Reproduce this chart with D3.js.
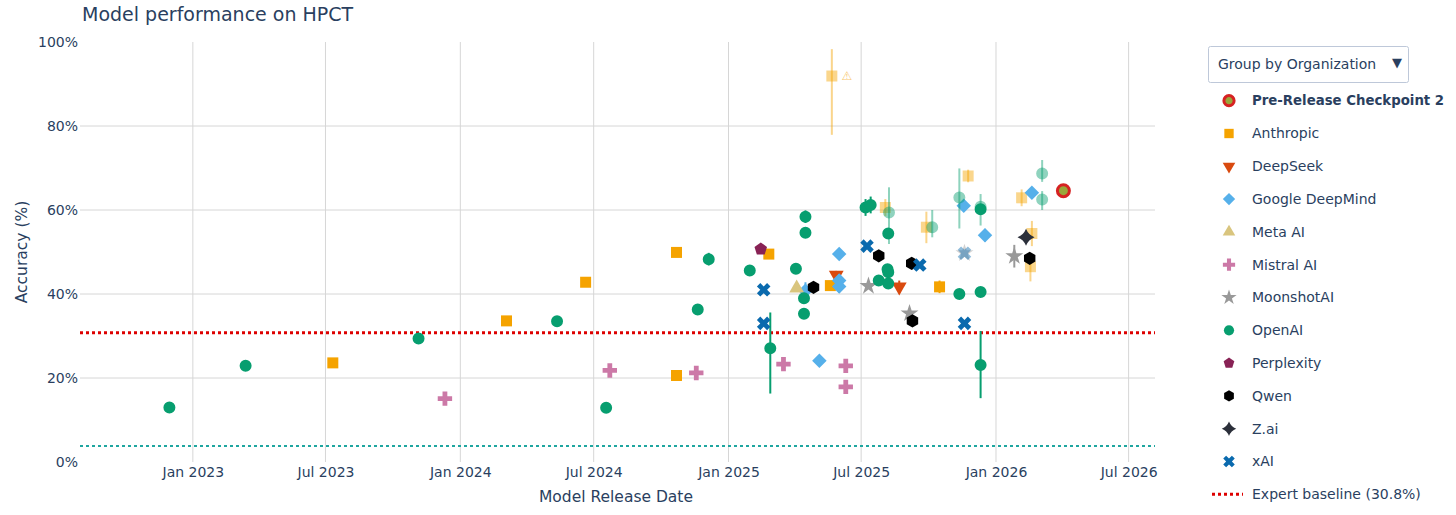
<!DOCTYPE html>
<html>
<head>
<meta charset="utf-8">
<script src="https://cdn.jsdelivr.net/npm/d3@7"></script>
<style>
  body { margin: 0; background: #fff; }
  svg text { font-family: "DejaVu Sans", Verdana, sans-serif; fill: #2a3f5f; }
</style>
</head>
<body>
<svg width="1456" height="515"></svg>
<script>
// rows: [release date, accuracy %, err up, err down, faded]
const preRelease = [["2026-04-03", 64.6, 0, 0, 0]];
const anthropic = [
  ["2023-07-11", 23.6, 0, 0, 0], ["2024-03-04", 33.6, 0, 0, 0], ["2024-06-20", 42.8, 0, 0, 0],
  ["2024-10-22", 49.9, 0, 0, 0], ["2024-10-22", 20.6, 1, 1, 0], ["2025-02-25", 49.5, 0, 0, 0],
  ["2025-05-20", 42.0, 0, 0, 0], ["2025-10-16", 41.7, 1.5, 1.5, 0],
  ["2025-05-22", 91.9, 6.4, 14, 1], ["2025-08-03", 60.6, 2, 2, 1], ["2025-09-28", 55.9, 3.7, 3.8, 1],
  ["2025-11-24", 68.1, 1.5, 1.5, 1], ["2026-02-05", 62.9, 2, 2, 1], ["2026-02-19", 54.4, 3, 3, 1],
  ["2026-02-17", 46.5, 2.5, 3.5, 1]
];
const deepseek = [["2025-05-28", 44.5, 1, 1, 0], ["2025-08-22", 41.7, 1.5, 1.5, 0]];
const google = [
  ["2025-04-16", 40.8, 2, 2, 0], ["2025-05-05", 24.1, 0, 0, 0], ["2025-06-01", 49.5, 0, 0, 0],
  ["2025-06-01", 43.2, 1.5, 1.5, 0], ["2025-06-01", 41.8, 1.5, 1.5, 0], ["2025-11-18", 61.0, 0, 0, 0],
  ["2025-12-17", 54.0, 1.5, 1.5, 0], ["2026-02-19", 64.1, 0, 0, 0]
];
const meta = [["2025-04-04", 41.4, 0, 0, 0]];
const mistral = [
  ["2023-12-11", 15.1, 0, 0, 0], ["2024-07-23", 21.8, 0, 0, 0], ["2024-11-18", 21.2, 0, 0, 0],
  ["2025-03-17", 23.3, 0, 0, 0], ["2025-06-10", 22.9, 0, 0, 0], ["2025-06-10", 17.9, 0, 0, 0]
];
const moonshot = [
  ["2025-07-11", 41.9, 0, 0, 0], ["2025-09-05", 35.4, 0, 0, 0], ["2025-11-19", 49.7, 0, 0, 1],
  ["2026-01-26", 49.0, 2.7, 2.7, 0]
];
const openai = [
  ["2022-11-30", 13.0, 0, 0, 0], ["2023-03-14", 22.9, 0, 0, 0], ["2023-11-05", 29.4, 0, 0, 0],
  ["2024-05-12", 33.5, 1.2, 1.2, 0], ["2024-07-18", 12.9, 0, 0, 0], ["2024-11-20", 36.3, 0, 0, 0],
  ["2024-12-05", 48.3, 1.5, 1.5, 0], ["2025-01-30", 45.6, 0, 0, 0], ["2025-02-27", 27.1, 8.5, 10.8, 0],
  ["2025-04-03", 46.0, 0, 0, 0], ["2025-04-16", 58.4, 1.5, 1.5, 0], ["2025-04-16", 54.6, 0, 0, 0],
  ["2025-04-14", 39.0, 0, 0, 0], ["2025-04-14", 35.3, 0, 0, 0], ["2025-07-07", 60.6, 2, 2, 0],
  ["2025-07-14", 61.2, 2, 2, 0], ["2025-08-07", 54.4, 0, 0, 0], ["2025-08-06", 45.9, 0, 0, 0],
  ["2025-08-07", 45.2, 0, 0, 0], ["2025-07-25", 43.2, 0, 0, 0], ["2025-08-07", 42.5, 0, 0, 0],
  ["2025-11-12", 40.0, 0, 0, 0], ["2025-12-11", 40.5, 0, 0, 0], ["2025-12-11", 23.1, 8.1, 7.9, 0],
  ["2025-12-11", 60.2, 0, 0, 0],
  ["2025-08-08", 59.4, 6, 7.5, 1], ["2025-10-06", 55.9, 4.1, 2.4, 1], ["2025-11-12", 63.0, 6.9, 7.4, 1],
  ["2025-12-11", 60.8, 3, 4.5, 1], ["2026-03-05", 68.7, 3.2, 2, 1], ["2026-03-05", 62.5, 2, 2.5, 1]
];
const perplexity = [["2025-02-14", 50.7, 1, 1, 0]];
const qwen = [
  ["2025-04-27", 41.6, 1, 1, 0], ["2025-07-25", 49.1, 0, 0, 0], ["2025-09-08", 47.3, 0, 0, 0],
  ["2025-09-09", 33.6, 0, 0, 0], ["2026-02-16", 48.5, 0, 0, 0]
];
const zai = [["2026-02-11", 53.5, 0, 0, 0]];
const xai = [
  ["2025-02-18", 41.0, 0, 0, 0], ["2025-02-18", 33.0, 0, 0, 0], ["2025-07-09", 51.4, 0, 0, 0],
  ["2025-09-19", 46.9, 0, 0, 0], ["2025-11-19", 49.7, 0, 0, 1], ["2025-11-19", 33.0, 0, 0, 0]
];

const expertBaseline = 30.8;
const floorBaseline = 3.8;
const xTicks = ["2023-01-01", "2023-07-01", "2024-01-01", "2024-07-01", "2025-01-01", "2025-07-01", "2026-01-01", "2026-07-01"];
const yTicks = [0, 20, 40, 60, 80, 100];

// custom plotly-like shapes
function poly(n, r, rot) {
  const pts = d3.range(n).map(i => {
    const a = rot + i * 2 * Math.PI / n;
    return [r * Math.sin(a), -r * Math.cos(a)];
  });
  return "M" + pts.join("L") + "Z";
}
function starDiamond(r) {
  const k = r * 0.28;
  return `M0,${-r}Q${k},${-k} ${r},0Q${k},${k} 0,${r}Q${-k},${k} ${-r},0Q${-k},${-k} 0,${-r}Z`;
}
const shapes = {
  circle: s => d3.symbol(d3.symbolCircle, 113 * s * s)(),
  square: s => d3.symbol(d3.symbolSquare, 121 * s * s)(),
  diamond: s => d3.symbol(d3.symbolSquare, 105 * s * s)(),
  triup: s => d3.symbol(d3.symbolTriangle, 95 * s * s)(),
  tridown: s => d3.symbol(d3.symbolTriangle, 95 * s * s)(),
  cross: s => d3.symbol(d3.symbolCross, 115 * s * s)(),
  x: s => d3.symbol(d3.symbolCross, 115 * s * s)(),
  star: s => d3.symbol(d3.symbolStar, 100 * s * s)(),
  pentagon: s => poly(5, 6.6 * s, 0),
  hexagon: s => poly(6, 6.6 * s, 0),
  stardiamond: s => starDiamond(8.5 * s)
};
const rotation = { diamond: 45, tridown: 180, x: 45 };

const orgs = [
  { name: "Pre-Release Checkpoint 2", color: "#9aa63a", stroke: "#d62222", shape: "circle", data: preRelease, bold: true },
  { name: "Anthropic", color: "#F5A300", shape: "square", data: anthropic },
  { name: "DeepSeek", color: "#D94A0F", shape: "tridown", data: deepseek },
  { name: "Google DeepMind", color: "#56B0EA", shape: "diamond", data: google },
  { name: "Meta AI", color: "#D9C57E", shape: "triup", data: meta },
  { name: "Mistral AI", color: "#CC79A7", shape: "cross", data: mistral },
  { name: "MoonshotAI", color: "#999999", shape: "star", data: moonshot },
  { name: "OpenAI", color: "#079E6F", shape: "circle", data: openai },
  { name: "Perplexity", color: "#882255", shape: "pentagon", data: perplexity },
  { name: "Qwen", color: "#000000", shape: "hexagon", data: qwen },
  { name: "Z.ai", color: "#2b2f3a", shape: "stardiamond", data: zai },
  { name: "xAI", color: "#0A6AAE", shape: "x", data: xai }
];
const drawOrder = orgs.slice(1).concat(orgs.slice(0, 1));

const parse = d3.timeParse("%Y-%m-%d");
const svg = d3.select("svg");
const plotLeft = 80, plotRight = 1155, plotTop = 42, plotBottom = 462;

const x = d3.scaleTime()
  .domain([parse("2022-07-31"), parse("2026-08-06")])
  .range([plotLeft, plotRight]);
const y = d3.scaleLinear().domain([0, 100]).range([plotBottom, plotTop]);

// grid
svg.append("g").selectAll("line").data(xTicks).enter().append("line")
  .attr("x1", d => x(parse(d))).attr("x2", d => x(parse(d)))
  .attr("y1", plotTop).attr("y2", plotBottom)
  .attr("stroke", "#d6d6d6").attr("stroke-width", 1);
svg.append("g").selectAll("line").data(yTicks.filter(d => d > 0 && d < 100)).enter().append("line")
  .attr("x1", plotLeft).attr("x2", plotRight)
  .attr("y1", d => y(d)).attr("y2", d => y(d))
  .attr("stroke", "#d6d6d6").attr("stroke-width", 1);

// axes
const xAxis = svg.append("g").attr("transform", `translate(0,${plotBottom})`)
  .call(d3.axisBottom(x).tickValues(xTicks.map(parse)).tickFormat(d3.timeFormat("%b %Y")).tickSize(0).tickPadding(5));
const yAxis = svg.append("g").attr("transform", `translate(${plotLeft},0)`)
  .call(d3.axisLeft(y).tickValues(yTicks).tickFormat(d => d + "%").tickSize(0).tickPadding(2));
[xAxis, yAxis].forEach(a => {
  a.select(".domain").remove();
  a.selectAll("text").attr("font-size", 14).attr("font-family", "DejaVu Sans").attr("fill", "#2a3f5f");
});
yAxis.selectAll("text").attr("dy", "0.35em");

// baselines
svg.append("line").attr("x1", plotLeft).attr("x2", plotRight)
  .attr("y1", y(expertBaseline)).attr("y2", y(expertBaseline))
  .attr("stroke", "#dd0000").attr("stroke-width", 3).attr("stroke-dasharray", "3,3");
svg.append("line").attr("x1", plotLeft).attr("x2", plotRight)
  .attr("y1", y(floorBaseline)).attr("y2", y(floorBaseline))
  .attr("stroke", "#1fa6a0").attr("stroke-width", 2).attr("stroke-dasharray", "3,3");

// points
const plot = svg.append("g");
drawOrder.forEach(org => {
  const g = plot.append("g");
  const rows = org.data;
  g.selectAll("line").data(rows.filter(r => r[2] > 0 || r[3] > 0)).enter().append("line")
    .attr("x1", r => x(parse(r[0]))).attr("x2", r => x(parse(r[0])))
    .attr("y1", r => y(r[1] + r[2])).attr("y2", r => y(r[1] - r[3]))
    .attr("stroke", org.color).attr("stroke-width", 2)
    .attr("opacity", r => r[4] ? 0.45 : 1);
  g.selectAll("path").data(rows).enter().append("path")
    .attr("d", shapes[org.shape](1))
    .attr("transform", r => `translate(${x(parse(r[0]))},${y(r[1])}) rotate(${rotation[org.shape] || 0})`)
    .attr("fill", org.color)
    .attr("stroke", org.stroke || "none")
    .attr("stroke-width", org.stroke ? 3 : 0)
    .attr("opacity", r => r[4] ? 0.45 : 1);
});

// warning flag on the outlier
const outlier = anthropic[8];
svg.append("text")
  .attr("x", x(parse(outlier[0])) + 15).attr("y", y(outlier[1]))
  .attr("dy", "0.35em").attr("text-anchor", "middle")
  .attr("font-size", 12).style("fill", "#F5A300").attr("opacity", 0.6)
  .text("⚠");

// titles
svg.append("text").attr("x", 82).attr("y", 14).attr("dy", "0.35em")
  .attr("font-size", 19).text("Model performance on HPCT");
svg.append("text").attr("x", 616).attr("y", 497).attr("dy", "0.35em")
  .attr("text-anchor", "middle").attr("font-size", 15.5).text("Model Release Date");
svg.append("text").attr("transform", "translate(22,252) rotate(-90)").attr("dy", "0.35em")
  .attr("text-anchor", "middle").attr("font-size", 15.5).text("Accuracy (%)");

// dropdown
svg.append("rect").attr("x", 1208.5).attr("y", 46.5).attr("width", 200).attr("height", 36).attr("rx", 2)
  .attr("fill", "#fff").attr("stroke", "#bec8d9");
svg.append("text").attr("x", 1218).attr("y", 64).attr("dy", "0.35em").attr("font-size", 14)
  .text("Group by Organization");
svg.append("text").attr("x", 1397).attr("y", 62).attr("dy", "0.35em").attr("text-anchor", "middle")
  .attr("font-size", 13).text("▼");

// legend
const legend = svg.append("g");
orgs.forEach((org, i) => {
  const rowY = 100.7 + i * 32.8;
  legend.append("path")
    .attr("d", shapes[org.shape](0.85))
    .attr("transform", `translate(1229,${rowY}) rotate(${rotation[org.shape] || 0})`)
    .attr("fill", org.color).attr("stroke", org.stroke || "none").attr("stroke-width", org.stroke ? 3 : 0);
  legend.append("text").attr("x", 1252).attr("y", rowY).attr("dy", "0.35em")
    .attr("font-size", org.bold ? 13.3 : 14)
    .attr("font-weight", org.bold ? "bold" : "normal").text(org.name);
});
const baseY = 100.7 + orgs.length * 32.8;
legend.append("line").attr("x1", 1212).attr("x2", 1243).attr("y1", baseY).attr("y2", baseY)
  .attr("stroke", "#dd0000").attr("stroke-width", 3).attr("stroke-dasharray", "3,3");
legend.append("text").attr("x", 1252).attr("y", baseY).attr("dy", "0.35em").attr("font-size", 14)
  .text(`Expert baseline (${expertBaseline}%)`);
</script>
</body>
</html>
